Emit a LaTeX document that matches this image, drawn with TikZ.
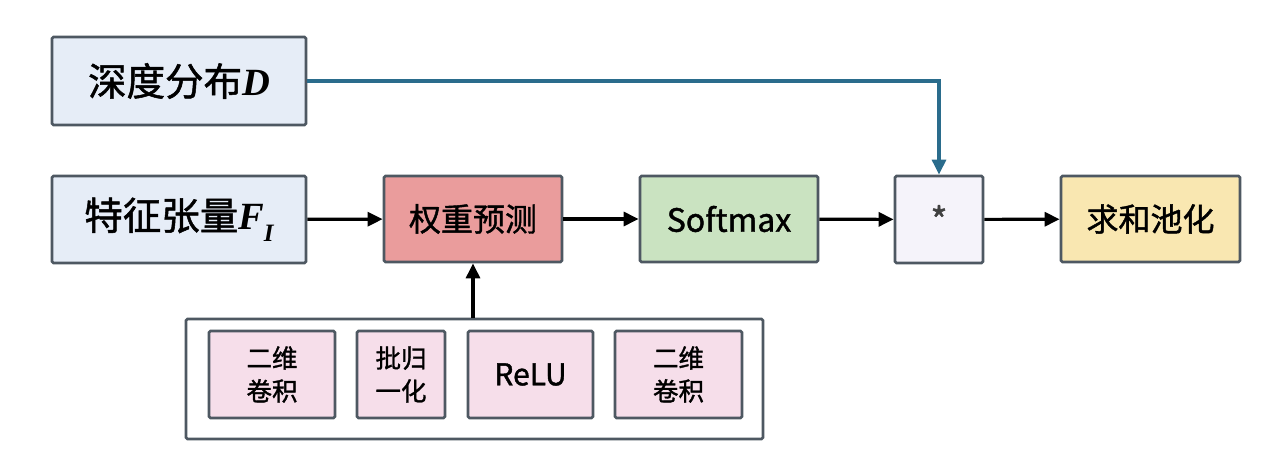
\documentclass[tikz,border=0pt]{standalone}
\usepackage{fontspec}
\setmainfont{Noto Sans CJK SC}[FakeBold=1.3,AutoFakeBold=1.3]
\newfontfamily\serifbi{Liberation Serif}[BoldItalicFont={* Bold Italic}]
\usetikzlibrary{arrows.meta}
\definecolor{bordc}{HTML}{4E5862}
\definecolor{bluefill}{HTML}{E6EDF7}
\definecolor{redfill}{HTML}{EA9C9C}
\definecolor{greenfill}{HTML}{CAE3C1}
\definecolor{lilacfill}{HTML}{F5F3FA}
\definecolor{yellowfill}{HTML}{F9E7B1}
\definecolor{pinkfill}{HTML}{F6DEEA}
\definecolor{linkblue}{HTML}{2A6C8C}
\tikzset{
  box/.style={draw=bordc, line width=2.8pt, rounded corners=1.5pt, inner sep=0pt, align=center},
  bigtext/.style={font=\fontsize{38.5}{40}\selectfont},
  midtext/.style={font=\fontsize{32}{36}\selectfont},
  smalltext/.style={font=\fontsize{25.5}{33}\selectfont},
  arr/.style={line width=3.2pt, -{Triangle[length=15pt,width=14pt]}},
  bluearr/.style={line width=3.2pt, draw=linkblue, -{Triangle[length=15pt,width=14pt,fill=linkblue]}}
}
\begin{document}
\begin{tikzpicture}[x=1pt,y=-1pt]
\useasboundingbox[fill=white] (0,0) rectangle (1269,465);
\node[box, fill=bluefill, minimum width=254pt, minimum height=88pt, bigtext] (D) at (179,81) {深度分布{\serifbi\bfseries\itshape D}};
\node[box, fill=bluefill, minimum width=254pt, minimum height=87pt, bigtext] (F) at (179,219.5) {特征张量{\serifbi\bfseries\itshape F}\raisebox{-0.3em}{\fontsize{25}{25}\selectfont\serifbi\bfseries\itshape I}};
\node[box, fill=redfill, minimum width=178pt, minimum height=86pt, midtext] (W) at (473,219) {权重预测};
\node[box, fill=greenfill, minimum width=178pt, minimum height=86pt, midtext] (S) at (729,219) {Softmax};
\node[box, fill=lilacfill, minimum width=88pt, minimum height=87pt, font=\fontsize{36}{36}\selectfont, text=black!75] (M) at (939,219.5) {\raisebox{-0.2em}{*}};
\node[box, fill=yellowfill, minimum width=179pt, minimum height=86pt, midtext] (P) at (1150.5,219) {求和池化};
\node[box, fill=white, minimum width=577pt, minimum height=120pt] (G) at (474.5,379) {};
\node[box, fill=pinkfill, minimum width=126pt, minimum height=87pt, smalltext] (B1) at (272,374.5) {二维\\卷积};
\node[box, fill=pinkfill, minimum width=88pt, minimum height=87pt, smalltext] (B2) at (401,374.5) {批归\\一化};
\node[box, fill=pinkfill, minimum width=125pt, minimum height=87pt, font=\fontsize{30}{33}\selectfont] (B3) at (530.5,374.5) {ReLU};
\node[box, fill=pinkfill, minimum width=127pt, minimum height=87pt, smalltext] (B4) at (678.5,374.5) {二维\\卷积};
\draw[arr] (F) -- (W);
\draw[arr] (W) -- (S);
\draw[arr] (S) -- (M);
\draw[arr] (M) -- (P);
\draw[arr] (G.north -| W) -- (W.south);
\draw[bluearr] (D.east) -- (D.east -| M) -- (M.north);
\end{tikzpicture}
\end{document}
